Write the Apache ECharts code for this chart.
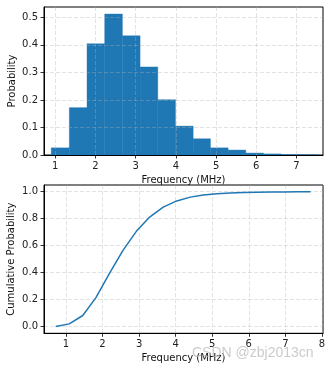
<!DOCTYPE html>
<html>
<head>
<meta charset="utf-8">
<script src="https://cdn.jsdelivr.net/npm/echarts@6/dist/echarts.min.js"></script>
<style>
  html, body { margin: 0; padding: 0; background: #fff; }
  #chart { width: 332px; height: 371px; }
</style>
</head>
<body>
<div id="chart"></div>
<script>
// Histogram of frequencies (probability density per bin)
const binEdges = [0.90, 1.35, 1.79, 2.23, 2.67, 3.11, 3.55, 3.99, 4.43, 4.86, 5.30, 5.74, 6.18, 6.62, 7.06, 7.50];
const binDensity = [0.026, 0.172, 0.404, 0.512, 0.433, 0.320, 0.201, 0.105, 0.059, 0.026, 0.018, 0.007, 0.004, 0.001, 0.0007];

// Cumulative distribution
const cdfFreq = [0.72, 1.09, 1.46, 1.82, 2.19, 2.56, 2.93, 3.29, 3.66, 4.03, 4.40, 4.76, 5.13, 5.50, 5.86, 6.23, 6.60, 6.97, 7.33, 7.69];
const cdfProb = [0.000, 0.020, 0.082, 0.215, 0.395, 0.565, 0.708, 0.812, 0.886, 0.932, 0.960, 0.976, 0.985, 0.990, 0.994, 0.997, 0.998, 0.999, 0.9995, 1.000];

// Tick values
const histFreqTicks = [1, 2, 3, 4, 5, 6, 7];
const histProbTicks = [0, 0.1, 0.2, 0.3, 0.4, 0.5];
const cdfFreqTicks = [1, 2, 3, 4, 5, 6, 7, 8];
const cdfProbTicks = [0, 0.2, 0.4, 0.6, 0.8, 1.0];

const FONT = 'DejaVu Sans';
const BLUE = '#1f77b4';

function axis(o) {
  return {
    type: 'value',
    gridIndex: o.grid,
    min: o.min,
    max: o.max,
    name: o.name,
    nameLocation: 'middle',
    nameGap: o.nameGap,
    nameMoveOverlap: false,
    nameTextStyle: { fontFamily: FONT, fontSize: 10, color: '#111' },
    z: 3,
    axisLine: { show: true, onZero: false, lineStyle: { color: '#000', width: 1 } },
    axisTick: { show: true, inside: false, length: 3.5, customValues: o.ticks,
                lineStyle: { color: '#000', width: 0.8 } },
    axisLabel: { customValues: o.ticks, margin: 6, fontFamily: FONT, fontSize: 10, color: '#222',
                 formatter: o.fmt },
    splitLine: { show: true, lineStyle: { color: 'rgba(176,176,176,0.45)', width: 0.8, type: [4, 2] } }
  };
}

const intFmt = v => String(Math.round(v));
const oneDec = v => v.toFixed(1);

const histData = binDensity.map((h, i) => [binEdges[i], binEdges[i + 1], h]);
const cdfData = cdfFreq.map((x, i) => [x, cdfProb[i]]);

const chart = echarts.init(document.getElementById('chart'), null, { renderer: 'canvas' });
chart.setOption({
  animation: false,
  backgroundColor: '#fff',
  grid: [
    { left: 44, right: 9, top: 7, height: 148, show: true, borderColor: '#000', borderWidth: 1,
      backgroundColor: 'transparent', containLabel: false, outerBoundsMode: 'none' },
    { left: 44, right: 9, top: 185, height: 148.3, show: true, borderColor: '#000', borderWidth: 1,
      backgroundColor: 'transparent', containLabel: false, outerBoundsMode: 'none' }
  ],
  xAxis: [
    axis({ grid: 0, min: 0.72, max: 7.66, ticks: histFreqTicks, fmt: intFmt,
           name: 'Frequency (MHz)', nameGap: 20 }),
    axis({ grid: 1, min: 0.40, max: 8.03, ticks: cdfFreqTicks, fmt: intFmt,
           name: 'Frequency (MHz)', nameGap: 20 })
  ],
  yAxis: [
    axis({ grid: 0, min: 0, max: 0.5376, ticks: histProbTicks, fmt: oneDec,
           name: 'Probability', nameGap: 27 }),
    axis({ grid: 1, min: -0.05, max: 1.05, ticks: cdfProbTicks, fmt: oneDec,
           name: 'Cumulative Probability', nameGap: 28 })
  ],
  series: [
    {
      type: 'custom',
      xAxisIndex: 0,
      yAxisIndex: 0,
      z: 1,
      encode: { x: [0, 1], y: 2 },
      data: histData,
      renderItem: function (params, api) {
        const p0 = api.coord([api.value(0), api.value(2)]);
        const p1 = api.coord([api.value(1), 0]);
        return {
          type: 'rect',
          shape: { x: p0[0], y: p0[1], width: p1[0] - p0[0], height: p1[1] - p0[1] },
          style: { fill: BLUE, stroke: BLUE, lineWidth: 0.4 }
        };
      }
    },
    {
      type: 'line',
      xAxisIndex: 1,
      yAxisIndex: 1,
      data: cdfData,
      showSymbol: false,
      lineStyle: { color: BLUE, width: 1.5 }
    }
  ],
  graphic: [
    {
      type: 'text',
      left: 192,
      top: 346,
      z: 100,
      style: {
        text: 'CSDN @zbj2013cn',
        font: '14px "Liberation Sans"',
        fill: 'rgba(185,185,185,0.75)'
      }
    }
  ]
});
</script>
</body>
</html>
